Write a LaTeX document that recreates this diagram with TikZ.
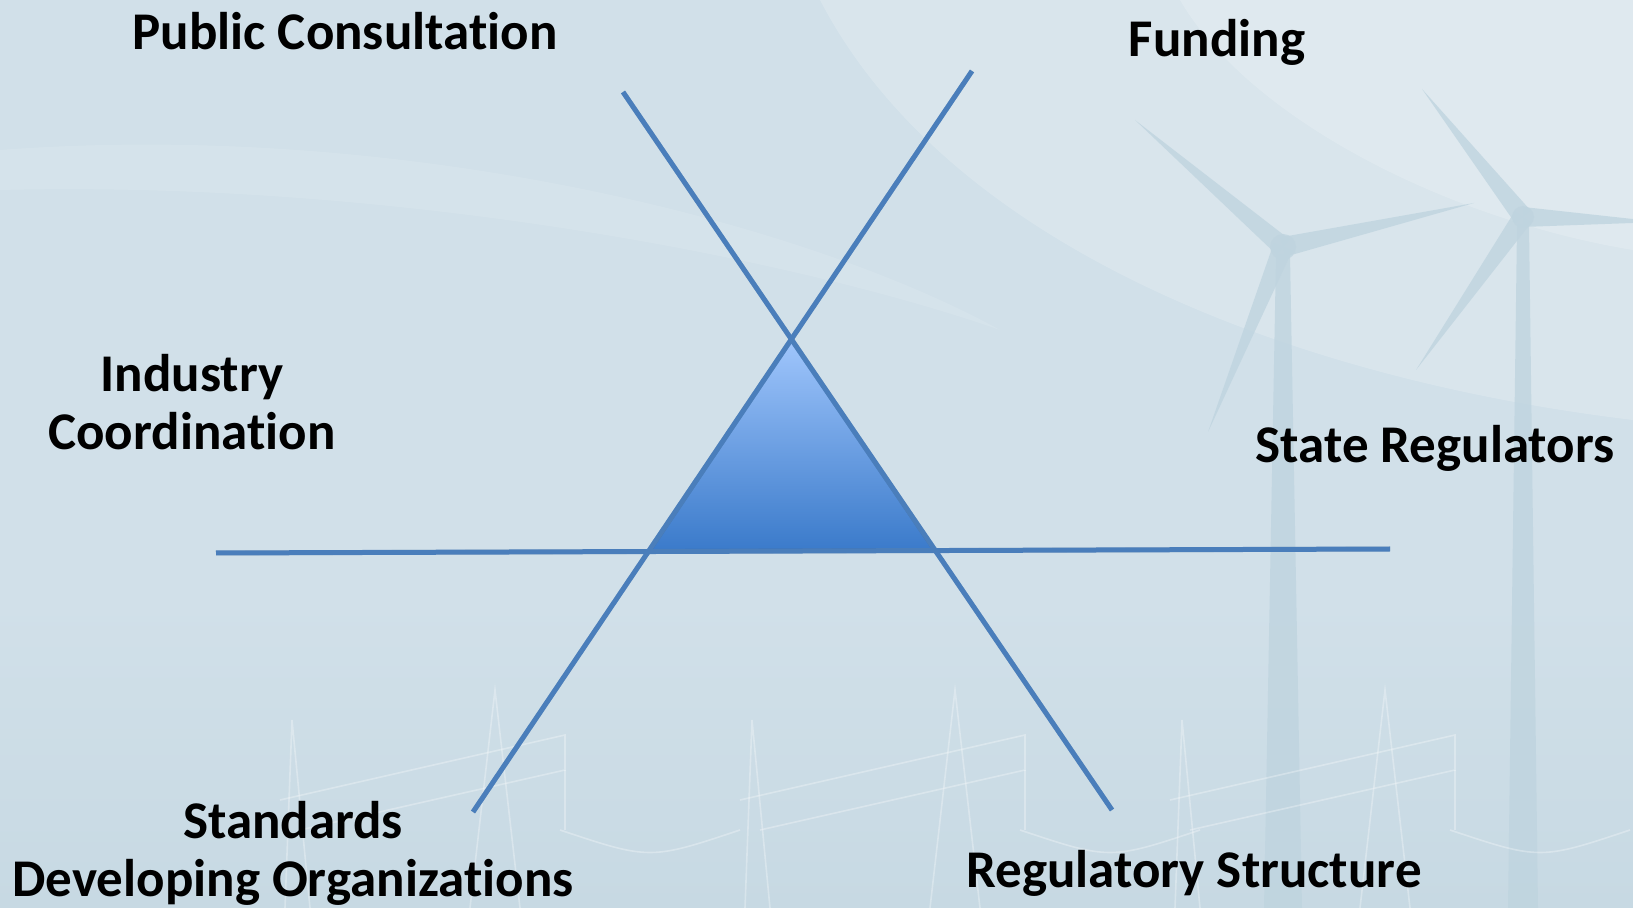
\documentclass[tikz,border=0pt]{standalone}
\usepackage{fontspec}
\setmainfont{Carlito}[Ligatures=NoCommon]
\usetikzlibrary{positioning,calc}
\definecolor{slidebg}{HTML}{D1E0E9}
\definecolor{slidelow}{HTML}{C7D9E3}
\definecolor{spokeblue}{HTML}{4A7EBB}
\definecolor{tritop}{HTML}{A0C6FC}
\definecolor{tribottom}{HTML}{3A7ACA}
\definecolor{turbinegray}{HTML}{BFD4DF}
\tikzstyle{spoke} = [draw=spokeblue, line width=2.5pt]
\tikzstyle{spokeshadow} = [draw=black, opacity=0.12, line width=2.4pt, shift={(2,3)}]
\tikzstyle{actor} = [font=\bfseries\fontsize{26.5}{29}\selectfont, align=center, inner sep=0pt]
\tikzstyle{swoosh} = [fill=white, opacity=0.18]
\tikzstyle{blade} = [fill=turbinegray, opacity=0.8]
\tikzstyle{pylon} = [draw=white, opacity=0.3, line width=0.8pt]

\begin{document}
\begin{tikzpicture}[x=0.5pt, y=-0.5pt]
  % Background
  \fill[slidebg] (0,0) rectangle (1633,908);
  \useasboundingbox (0,0) rectangle (1633,908);
  \shade[top color=slidebg, bottom color=slidelow] (0,600) rectangle (1633,908);
  \fill[swoosh] (820,0) .. controls (950,250) and (1300,380) .. (1633,420)
    -- (1633,0) -- cycle;
  \fill[swoosh] (1180,0) .. controls (1250,120) and (1450,220) .. (1633,250)
    -- (1633,0) -- cycle;
  \fill[white, opacity=0.1] (0,150) .. controls (400,120) and (800,220) .. (1000,330)
    .. controls (800,260) and (400,180) .. (0,190) -- cycle;

  % Wind turbines
  \coordinate (h1) at (1283,247);
  \coordinate (h2) at (1523,217);
  \fill[blade] (1276,255) -- (1290,255) -- (1302,908) -- (1264,908) -- cycle;
  \fill[blade] (1517,225) -- (1529,225) -- (1538,908) -- (1508,908) -- cycle;
  \foreach \hub/\tx/\ty in {h1/1135/120, h1/1474/203, h1/1208/432,
                            h2/1422/89, h2/1660/222, h2/1416/370}
    \fill[blade] ($(\hub)!5pt!90:(\tx,\ty)$) -- (\tx,\ty)
      -- ($(\hub)!5pt!-90:(\tx,\ty)$) -- cycle;
  \fill[blade] (h1) circle (13);
  \fill[blade] (h2) circle (11);

  % Pylons
  \foreach \px in {0,460,890} {
    \draw[pylon] (\px+285,908) -- (\px+292,720) -- (\px+310,908);
    \draw[pylon] (\px+470,908) -- (\px+495,690) -- (\px+520,908);
    \draw[pylon] (\px+280,800) -- (\px+565,735) -- (\px+565,770) -- (\px+300,830);
    \draw[pylon] (\px+565,770) -- (\px+565,830);
    \draw[pylon] (\px+560,830) .. controls (\px+650,860) .. (\px+740,830);
  }

  % Place ends of the spokes
  \coordinate (nw) at (623,92);
  \coordinate (se) at (1112,810);
  \coordinate (ne) at (972,71);
  \coordinate (sw) at (473,812);
  \coordinate (w) at (216,553);
  \coordinate (e) at (1390,549);
  \coordinate (apex) at (intersection of nw--se and ne--sw);
  \coordinate (baseL) at (intersection of ne--sw and w--e);
  \coordinate (baseR) at (intersection of nw--se and w--e);

  % Triangle and spokes
  \shade[top color=tritop, bottom color=tribottom] (apex) -- (baseL) -- (baseR) -- cycle;
  \foreach \a/\b in {nw/se, ne/sw, w/e}
    \path[spokeshadow] (\a) -- (\b);
  \foreach \a/\b in {nw/se, ne/sw, w/e}
    \path[spoke] (\a) -- (\b);

  % Place labels
  \node[actor] (consult) at (345,31) {Public Consultation};
  \node[actor] (funding) at (1217,42) {Funding};
  \node[actor] (industry) at (192,402) {Industry\\Coordination};
  \node[actor] (state) at (1435,448) {State Regulators};
  \node[actor] (sdo) at (293,853) {Standards\\Developing Organizations};
  \node[actor] (regstruct) at (1194,873) {Regulatory Structure};
\end{tikzpicture}
\end{document}
